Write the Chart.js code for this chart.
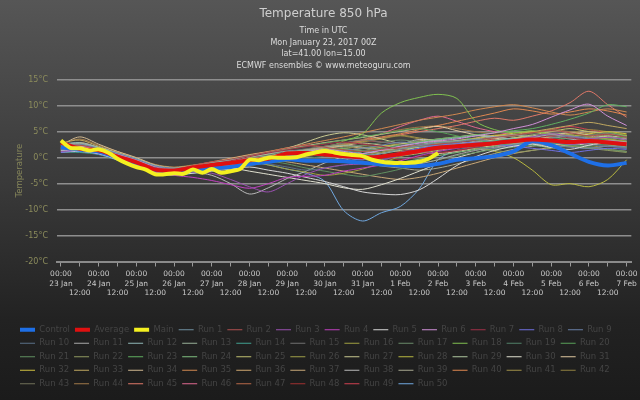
<!DOCTYPE html>
<html>
<head>
<meta charset="utf-8">
<script src="https://cdn.jsdelivr.net/npm/chart.js@4.4.0/dist/chart.umd.min.js"></script>
<style>
  html, body { margin: 0; padding: 0; background: #1c1c1c; }
</style>
</head>
<body>
<canvas id="ensChart" width="640" height="400"></canvas>
<script>
// day labels under the 00:00 ticks
const dayLabels = ['23 Jan', '24 Jan', '25 Jan', '26 Jan', '27 Jan', '28 Jan', '29 Jan', '30 Jan',
  '31 Jan', '1 Feb', '2 Feb', '3 Feb', '4 Feb', '5 Feb', '6 Feb', '7 Feb'];
const tempTicks = [-20, -15, -10, -5, 0, 5, 10, 15];

// hours between values
const runStep = 12;
const mainStep = 6;

const controlTemp = [2.0, 1.5, 1.2, 0.0, -1.2, -2.3, -2.8, -2.4, -2.0, -1.8, -1.2, -0.8, -0.3, -0.6, -0.6, -0.7,
  -1.0, -1.3, -1.5, -1.6, -1.2, -0.4, -0.1, 0.3, 1.2, 3.2, 2.4, 0.8, -0.8, -1.5, -1.0];
const averageTemp = [2.9, 1.7, 1.4, 0.2, -0.9, -2.3, -2.5, -1.9, -1.4, -1.0, -0.5, -0.2, 0.8, 0.9, 0.6, 0.3,
  0.1, 0.2, 0.7, 1.3, 1.9, 2.2, 2.5, 2.8, 3.2, 3.5, 3.3, 3.0, 3.2, 2.9, 2.6];
const mainTemp = [3.3, 1.9, 1.8, 1.4, 1.6, 1.0, -0.2, -1.1, -1.8, -2.3, -3.2, -3.2, -3.0, -3.1, -2.3, -2.9,
  -2.2, -2.9, -2.6, -2.2, -0.4, -0.5, 0.0, 0.0, 0.0, 0.1, 0.6, 1.0, 1.3, 1.0, 0.7, 0.5, 0.3, -0.4, -0.8,
  -1.0, -1.0, -1.0, -0.8, -0.2, 0.9];

// ensemble members, Run 1 .. Run 50
const runTemps = [
  [1.5,1.6,1.0,0.2,-1.0,-2.4,-2.8,-2.5,-2.0,-1.6,-1.2,-0.5,0.2,0.8,1.2,0.9,0.4,0.8,1.6,2.3,2.9,3.1,3.5,3.0,2.6,2.9,3.8,4.2,3.6,3.0,2.4],
  [2.2,2.4,1.6,0.5,-0.6,-1.9,-2.2,-1.5,-0.8,-0.3,0.4,1.1,1.8,2.4,2.0,1.5,1.2,1.6,2.0,2.4,2.6,3.0,3.4,3.9,4.3,4.8,5.2,4.8,4.2,4.5,3.9],
  [1.2,1.4,0.9,-0.1,-1.3,-2.6,-3.0,-2.8,-3.0,-4.2,-5.6,-6.6,-5.0,-3.2,-2.0,-1.4,-1.2,-0.5,0.4,1.0,1.6,2.0,2.4,2.9,3.4,4.0,4.6,4.1,3.7,3.9,3.5],
  [1.8,1.7,1.1,0.0,-1.4,-2.8,-3.4,-3.8,-4.4,-5.2,-5.9,-5.0,-3.8,-3.6,-3.4,-2.6,-2.0,-1.4,-0.6,0.4,1.2,1.8,2.3,2.6,3.0,3.4,3.1,2.6,2.9,3.2,2.8],
  [1.4,1.2,0.8,-0.4,-1.6,-2.9,-3.3,-3.0,-2.6,-2.2,-1.8,-2.4,-3.0,-3.8,-4.6,-5.6,-6.6,-7.0,-7.1,-6.2,-4.0,-1.5,0.2,1.4,2.2,2.6,2.0,1.6,2.4,3.0,2.6],
  [2.0,2.2,1.5,0.6,-0.5,-1.8,-2.3,-1.9,-1.4,-0.9,-0.4,0.0,0.6,1.2,1.6,1.2,0.8,1.4,2.2,2.8,3.2,3.6,4.2,4.8,5.6,6.4,7.8,9.2,10.3,8.0,6.2],
  [1.6,2.0,1.4,0.4,-0.8,-2.0,-2.5,-2.0,-1.2,-0.6,0.2,0.9,1.5,2.1,2.6,3.0,2.6,2.2,1.6,1.2,1.0,1.4,2.0,2.6,3.0,3.6,4.2,3.8,3.4,3.0,2.6],
  [1.0,1.3,0.7,-0.3,-1.4,-2.7,-3.1,-2.6,-2.0,-1.5,-0.9,-0.4,0.3,0.9,0.5,0.0,-0.4,0.2,1.0,1.8,2.4,2.7,3.0,2.6,2.2,1.8,1.4,1.0,1.4,1.8,1.6],
  [2.4,2.6,1.8,0.8,-0.3,-1.6,-2.0,-1.8,-1.3,-1.0,-0.6,-0.2,0.2,0.6,1.0,1.4,1.8,2.4,3.0,2.6,2.2,2.0,2.4,2.8,3.2,2.8,2.4,2.0,1.8,2.2,2.0],
  [1.9,1.8,1.2,0.1,-1.1,-2.4,-2.7,-2.3,-1.8,-1.2,-0.7,-1.2,-1.8,-2.4,-2.0,-1.4,-0.8,-0.2,0.6,1.2,1.8,2.2,2.0,1.8,2.4,3.0,3.4,3.0,2.6,2.2,1.8],
  [1.3,1.5,1.0,0.0,-1.2,-2.5,-2.9,-2.6,-2.2,-1.7,-1.1,-0.5,0.2,0.7,1.1,0.6,-0.2,-1.0,-1.6,-1.2,-0.4,0.6,1.4,2.0,2.6,3.1,3.6,3.2,2.8,3.3,3.0],
  [2.6,2.9,2.0,0.9,-0.2,-1.5,-2.1,-1.7,-1.0,-0.4,0.2,0.8,1.3,1.0,0.6,0.3,0.8,1.5,2.2,2.9,3.4,3.8,4.2,4.0,3.6,3.9,4.4,3.8,3.4,3.0,2.8],
  [1.7,2.1,1.4,0.3,-0.9,-2.2,-2.6,-2.1,-1.5,-0.8,-0.2,0.3,0.9,1.5,2.0,2.4,2.0,1.5,1.9,2.5,3.0,3.3,3.6,4.0,4.4,4.0,3.5,3.2,3.6,3.9,3.4],
  [1.1,1.0,0.6,-0.5,-1.7,-3.0,-3.4,-3.0,-2.4,-1.8,-1.3,-0.8,-0.2,0.4,0.9,1.3,0.8,0.2,0.6,1.3,1.9,2.4,2.8,3.2,3.6,3.3,2.9,2.6,3.0,2.7,2.3],
  [2.1,2.3,1.7,0.7,-0.4,-1.7,-2.2,-1.9,-1.4,-0.8,-0.1,0.5,1.2,1.7,2.2,2.8,3.4,3.0,2.6,2.2,2.6,3.0,3.4,3.9,4.2,4.6,4.2,3.8,4.3,4.7,4.0],
  [1.5,1.9,1.3,0.2,-1.0,-2.3,-2.8,-2.4,-1.9,-1.3,-0.8,-1.4,-2.2,-2.8,-3.4,-3.0,-2.2,-1.0,0.2,1.0,1.6,2.2,2.8,3.0,2.7,3.2,3.8,4.4,4.0,3.6,3.2],
  [2.3,2.1,1.5,0.4,-0.7,-2.0,-2.4,-2.0,-1.6,-1.0,-0.5,0.1,0.7,1.2,1.6,2.0,2.4,2.9,3.4,3.0,2.5,2.1,2.6,3.1,3.5,3.9,3.4,3.0,3.4,3.1,2.9],
  [1.8,1.6,1.1,0.1,-1.1,-2.4,-2.9,-2.4,-1.8,-1.2,-0.6,0.0,0.5,1.0,1.8,3.2,4.6,8.6,10.6,11.6,12.2,11.4,7.0,5.4,4.8,5.2,4.4,3.8,4.2,4.8,4.2],
  [1.4,1.7,1.2,0.1,-1.2,-2.5,-3.0,-2.7,-2.3,-1.9,-1.5,-1.0,-0.6,-0.2,0.3,0.8,1.3,1.8,2.2,2.6,3.0,2.6,2.2,2.6,3.0,3.4,3.0,2.6,2.2,2.6,2.3],
  [2.0,2.4,1.7,0.6,-0.5,-1.8,-2.2,-1.7,-1.0,-0.3,0.4,1.0,1.6,2.2,2.8,3.4,4.0,4.6,5.2,5.6,5.0,4.2,3.4,2.8,2.4,2.8,3.4,3.8,3.2,3.6,4.0],
  [1.2,1.5,1.0,-0.1,-1.3,-2.6,-3.1,-2.8,-2.3,-1.7,-1.2,-0.7,-1.2,-2.0,-2.6,-3.2,-3.6,-3.0,-2.2,-1.2,-0.4,0.4,1.0,1.6,2.0,2.4,2.8,2.4,2.0,1.6,1.2],
  [1.9,2.2,1.6,0.5,-0.7,-2.0,-2.5,-2.2,-1.7,-1.1,-0.5,0.0,0.4,0.8,0.4,0.0,0.5,1.1,1.7,2.2,2.6,2.2,1.8,1.4,1.0,1.4,1.8,2.2,1.8,1.4,1.0],
  [1.6,1.8,1.2,0.2,-1.0,-2.3,-2.7,-2.3,-1.7,-1.2,-0.6,-0.1,0.4,0.9,1.3,1.7,1.3,1.8,2.4,3.0,3.6,4.0,4.4,4.8,5.2,5.6,6.4,7.4,8.6,10.2,9.8],
  [2.4,2.3,1.6,0.6,-0.6,-1.9,-2.3,-1.9,-1.3,-0.7,-0.1,0.5,1.0,1.4,1.0,0.6,0.2,-0.3,-0.8,-0.3,0.4,1.0,1.6,2.2,2.7,2.4,2.0,2.4,2.8,2.5,2.1],
  [1.3,1.6,1.1,0.0,-1.2,-2.5,-2.9,-2.5,-2.0,-1.4,-0.9,-0.3,0.2,0.7,1.2,1.7,1.3,0.8,0.4,0.8,1.4,2.0,2.6,3.2,3.8,4.4,5.0,5.6,5.0,4.6,4.2],
  [2.2,2.0,1.4,0.3,-0.9,-2.2,-2.6,-2.3,-1.8,-1.3,-0.8,-0.3,0.3,0.8,1.3,1.8,2.3,2.0,1.6,1.2,1.6,2.0,2.4,2.8,3.1,3.5,3.1,2.8,3.1,3.4,3.1],
  [1.7,2.0,1.4,0.4,-0.8,-2.1,-2.5,-2.0,-1.4,-0.7,0.0,0.8,1.8,3.0,4.2,4.8,4.4,3.6,2.8,3.2,3.6,4.0,4.4,4.0,3.6,4.0,4.4,4.8,4.4,4.0,3.6],
  [1.5,1.4,0.9,-0.2,-1.4,-2.7,-3.1,-2.7,-2.1,-1.5,-1.0,-0.5,0.0,0.5,1.0,1.4,1.8,2.2,2.6,3.0,3.3,2.8,2.2,1.2,0.0,-2.4,-5.2,-5.0,-5.6,-4.2,-0.4],
  [2.5,2.7,1.9,0.8,-0.3,-1.6,-2.1,-1.6,-1.0,-0.5,0.1,0.6,1.1,1.5,1.1,0.7,0.3,0.8,1.4,2.0,2.4,2.8,3.0,3.4,3.8,4.2,4.6,4.2,3.8,4.2,3.8],
  [1.0,1.2,0.7,-0.4,-1.6,-2.9,-3.3,-2.9,-2.4,-2.0,-2.6,-3.2,-3.8,-4.4,-5.0,-5.8,-6.1,-5.2,-4.0,-2.6,-1.2,0.0,1.0,1.8,2.4,2.8,3.2,2.8,2.4,2.8,2.4],
  [2.0,2.5,1.8,0.7,-0.4,-1.7,-2.1,-1.6,-0.9,-0.2,0.5,1.1,1.7,2.3,2.9,3.4,3.9,4.5,5.1,5.6,6.0,5.2,4.4,3.8,3.2,2.8,2.4,2.8,3.2,2.8,2.4],
  [1.4,1.8,1.2,0.1,-1.1,-2.4,-2.8,-2.4,-1.9,-1.4,-0.9,-0.4,0.1,0.6,1.1,0.7,0.3,0.9,1.5,2.1,2.7,3.2,3.7,4.2,4.7,5.0,4.6,4.2,4.6,5.0,4.6],
  [2.8,3.4,2.2,1.0,-0.2,-1.5,-1.9,-1.5,-1.0,-0.4,0.2,0.7,1.2,0.8,0.4,0.0,-0.4,0.2,0.8,1.4,2.0,2.6,3.2,3.8,4.4,5.0,5.6,6.2,6.8,6.2,5.6],
  [2.4,4.0,2.6,1.2,0.0,-1.4,-1.9,-1.6,-1.2,-0.7,-0.2,0.3,0.8,1.3,1.8,2.3,2.8,2.4,1.8,1.2,0.8,1.2,1.8,2.4,3.0,3.6,4.2,4.8,4.2,3.6,3.0],
  [2.1,2.6,1.9,0.8,-0.3,-1.6,-2.0,-1.5,-0.8,-0.1,0.6,1.2,1.9,2.6,3.3,4.0,4.8,5.6,6.4,7.2,7.8,8.4,9.2,9.8,10.2,9.6,8.8,8.2,8.8,9.4,8.8],
  [1.8,2.9,2.0,0.9,-0.3,-1.6,-2.1,-1.8,-1.3,-0.8,-0.3,0.2,0.7,1.2,1.7,2.2,1.8,1.4,1.8,2.3,2.8,3.3,3.8,4.3,4.0,3.6,4.0,4.5,5.0,4.6,4.2],
  [1.6,2.2,1.5,0.4,-0.8,-2.1,-2.5,-2.1,-1.6,-1.1,-0.7,-0.3,-0.8,-1.4,-2.0,-2.6,-3.2,-3.8,-4.2,-3.8,-3.0,-2.0,-1.0,0.0,0.8,1.4,2.0,2.4,2.0,1.6,1.2],
  [1.2,1.6,1.1,0.0,-1.2,-2.5,-2.9,-2.8,-3.4,-5.0,-7.0,-5.8,-4.0,-2.6,-1.0,0.2,1.2,2.0,2.6,3.5,3.2,2.8,2.4,2.8,3.2,3.6,4.0,3.6,3.2,2.8,2.4],
  [2.2,2.4,1.7,0.6,-0.6,-1.9,-2.3,-1.9,-1.4,-0.9,-0.4,0.1,0.6,1.1,0.6,-0.2,-1.0,-1.6,-2.0,-2.4,-2.0,-1.2,-0.2,0.8,1.6,2.2,2.6,2.2,1.8,2.2,1.8],
  [1.9,2.3,1.6,0.5,-0.7,-2.0,-2.4,-2.0,-1.4,-0.8,-0.2,0.4,1.0,1.6,2.2,2.8,3.4,4.0,4.6,5.4,6.2,7.0,7.8,8.6,9.4,9.0,8.4,8.8,9.4,9.0,8.2],
  [1.3,1.7,1.2,0.1,-1.1,-2.4,-2.8,-2.3,-1.7,-1.1,-0.5,0.1,0.7,1.3,1.9,2.5,3.1,3.7,4.3,3.8,3.2,2.6,2.0,2.4,2.8,3.2,2.8,2.4,2.0,2.4,2.0],
  [2.0,2.1,1.5,0.4,-0.8,-2.1,-2.5,-2.1,-1.6,-1.0,-0.5,0.0,0.6,1.2,1.8,2.4,3.0,3.6,4.2,3.6,3.0,2.4,2.0,2.4,3.0,3.6,4.2,4.8,5.4,5.0,4.4],
  [1.5,1.3,0.8,-0.3,-1.5,-2.8,-3.2,-2.8,-2.3,-1.8,-1.3,-0.8,-0.3,0.2,0.7,1.2,1.7,2.2,2.7,3.2,2.8,2.4,2.8,3.2,3.6,3.2,2.8,3.2,3.6,3.2,2.8],
  [2.6,3.6,2.4,1.2,0.0,-1.3,-1.8,-1.4,-0.9,-0.3,0.3,1.1,1.9,2.4,2.0,2.6,3.5,4.6,5.4,5.9,6.1,5.6,5.0,4.6,4.2,4.8,5.4,5.0,4.6,4.2,3.8],
  [1.7,2.0,1.4,0.3,-0.9,-2.2,-2.6,-2.2,-1.6,-1.0,-0.4,0.2,0.8,1.4,2.0,2.6,3.2,3.8,4.4,5.0,5.6,6.2,7.0,7.6,7.2,8.0,9.0,10.6,12.8,10.2,7.8],
  [1.4,1.5,1.0,-0.1,-1.3,-2.6,-3.0,-2.6,-2.0,-1.4,-0.8,-0.2,0.4,1.0,1.6,2.4,3.4,4.6,6.0,7.2,8.0,7.0,5.8,5.0,4.4,3.8,3.2,2.6,3.0,2.6,2.2],
  [2.3,2.8,2.0,0.9,-0.3,-1.6,-2.0,-1.6,-1.1,-0.6,-0.1,0.4,0.9,1.4,1.9,2.4,2.0,1.6,1.2,1.6,2.0,2.4,2.8,3.2,3.6,3.2,2.8,3.2,3.6,3.2,2.8],
  [1.1,1.4,0.9,-0.2,-1.4,-2.7,-3.1,-2.7,-2.2,-1.7,-1.2,-0.7,-0.2,0.3,0.8,1.3,0.8,0.2,-0.4,0.2,0.8,1.4,2.0,2.6,3.2,3.8,3.4,3.0,2.6,3.0,2.6],
  [1.8,2.2,1.5,0.4,-0.8,-2.1,-2.5,-2.1,-1.5,-0.9,-0.3,0.3,0.9,1.5,2.1,2.7,3.3,3.0,2.6,2.2,1.8,2.4,3.0,3.6,4.2,4.8,5.4,6.0,5.4,4.8,4.2],
  [1.6,1.9,1.3,0.2,-1.0,-2.3,-2.7,-2.3,-1.8,-1.3,-0.8,-1.4,-2.2,-3.0,-4.6,-10.2,-12.2,-10.6,-9.4,-6.0,-0.4,1.4,2.0,2.6,3.0,3.4,3.0,2.6,3.0,3.4,3.0]
];

const runColors = [
  '#6f8fa0', '#b05050', '#9a50b0', '#c040c0', '#d8d8d8', '#d090d8', '#a03048', '#7070e0', '#6a80a8', '#5a7088',
  '#a8a8a8', '#90b8b8', '#98b098', '#40a090', '#707070', '#a0a040', '#6a8a6a', '#80c050', '#508068', '#58a058',
  '#609060', '#909a60', '#60b060', '#80c080', '#c0c070', '#a0a048', '#c8c890', '#b8b840', '#b0c8a0', '#e0e0d0',
  '#e0c8a0', '#d0c040', '#c0a860', '#d0b890', '#d08850', '#d0a870', '#c8a878', '#b8b8b8', '#a8a890', '#e08850',
  '#a09048', '#908040', '#707058', '#a07848', '#e07868', '#e06890', '#b86848', '#a03030', '#d04050', '#70a8e0'
];

function toPoints(vals, step) {
  return vals.map((v, i) => ({ x: i * step, y: v }));
}

const datasets = [
  { label: 'Control', data: toPoints(controlTemp, runStep), borderColor: '#1e6fe6', borderWidth: 4, order: 2 },
  { label: 'Average', data: toPoints(averageTemp, runStep), borderColor: '#e01010', borderWidth: 4, order: 1 },
  { label: 'Main', data: toPoints(mainTemp, mainStep), borderColor: '#f4f020', borderWidth: 4, order: 0 }
];
runTemps.forEach((vals, i) => {
  datasets.push({
    label: 'Run ' + (i + 1),
    data: toPoints(vals, runStep),
    borderColor: runColors[i],
    borderWidth: 1,
    order: 3
  });
});
datasets.forEach(d => {
  d.pointRadius = 0;
  d.tension = 0.3;
  d.fill = false;
  d.backgroundColor = d.borderColor;
});

// dark gradient behind everything
const bgPlugin = {
  id: 'bg',
  beforeDraw(chart) {
    const c = chart.ctx;
    const g = c.createLinearGradient(0, 0, 0, chart.height);
    g.addColorStop(0, '#565656');
    g.addColorStop(0.45, '#3a3a3a');
    g.addColorStop(0.8, '#222222');
    g.addColorStop(1, '#1b1b1b');
    c.save();
    c.fillStyle = g;
    c.fillRect(0, 0, chart.width, chart.height);
    c.restore();
  }
};

const FONT = 'DejaVu Sans';

new Chart(document.getElementById('ensChart'), {
  type: 'line',
  data: { datasets: datasets },
  plugins: [bgPlugin],
  options: {
    responsive: false,
    animation: false,
    layout: { padding: { left: 15, right: 8, top: 0, bottom: 2 } },
    scales: {
      x: {
        type: 'linear',
        min: -2.5,
        max: 363,
        afterBuildTicks: (scale) => {
          const t = [];
          for (let h = 0; h <= 360; h += 12) t.push({ value: h });
          scale.ticks = t;
        },
        afterFit: (scale) => { scale.height = 59; },
        ticks: {
          autoSkip: false,
          maxRotation: 0,
          padding: 2.5,
          color: '#c8c8c8',
          font: { family: FONT, size: 7.5, lineHeight: 1.3 },
          callback: (v) => (v % 24 === 0) ? ['00:00', dayLabels[v / 24]] : ['', '', '12:00']
        },
        grid: { drawOnChartArea: false, drawTicks: true, tickLength: 5, tickColor: '#9a9a9a' },
        border: { display: true, color: '#8a8a8a', width: 2 }
      },
      y: {
        min: -20,
        max: 15,
        afterBuildTicks: (scale) => { scale.ticks = tempTicks.map(v => ({ value: v })); },
        afterFit: (scale) => { scale.width = 42; },
        ticks: {
          padding: 9,
          color: '#8c8c5c',
          font: { family: FONT, size: 8 },
          callback: (v) => v + '°C'
        },
        grid: { color: '#8e8e8e', lineWidth: 1.5, drawTicks: false },
        border: { display: false },
        title: {
          display: true,
          text: 'Temperature',
          color: '#85855a',
          font: { family: FONT, size: 8.5 },
          padding: { top: 0, bottom: 0 }
        }
      }
    },
    plugins: {
      tooltip: { enabled: false },
      title: {
        display: true,
        text: 'Temperature 850 hPa',
        color: '#cfcfcf',
        font: { family: FONT, size: 12, weight: 'normal', lineHeight: 1.2 },
        padding: { top: 7, bottom: 4 }
      },
      subtitle: {
        display: true,
        text: ['Time in UTC', 'Mon January 23, 2017 00Z', 'lat=41.00 lon=15.00', 'ECMWF ensembles © www.meteoguru.com'],
        color: '#dcdcdc',
        font: { family: FONT, size: 8, lineHeight: 1.45 },
        padding: { top: 0, bottom: 8 }
      },
      legend: {
        position: 'bottom',
        align: 'start',
        labels: {
          usePointStyle: true,
          pointStyle: 'line',
          pointStyleWidth: 15,
          padding: 5,
          color: '#444444',
          font: { family: FONT, size: 8.5 },
          sort: (a, b) => a.datasetIndex - b.datasetIndex
        }
      }
    }
  }
});
</script>
</body>
</html>
